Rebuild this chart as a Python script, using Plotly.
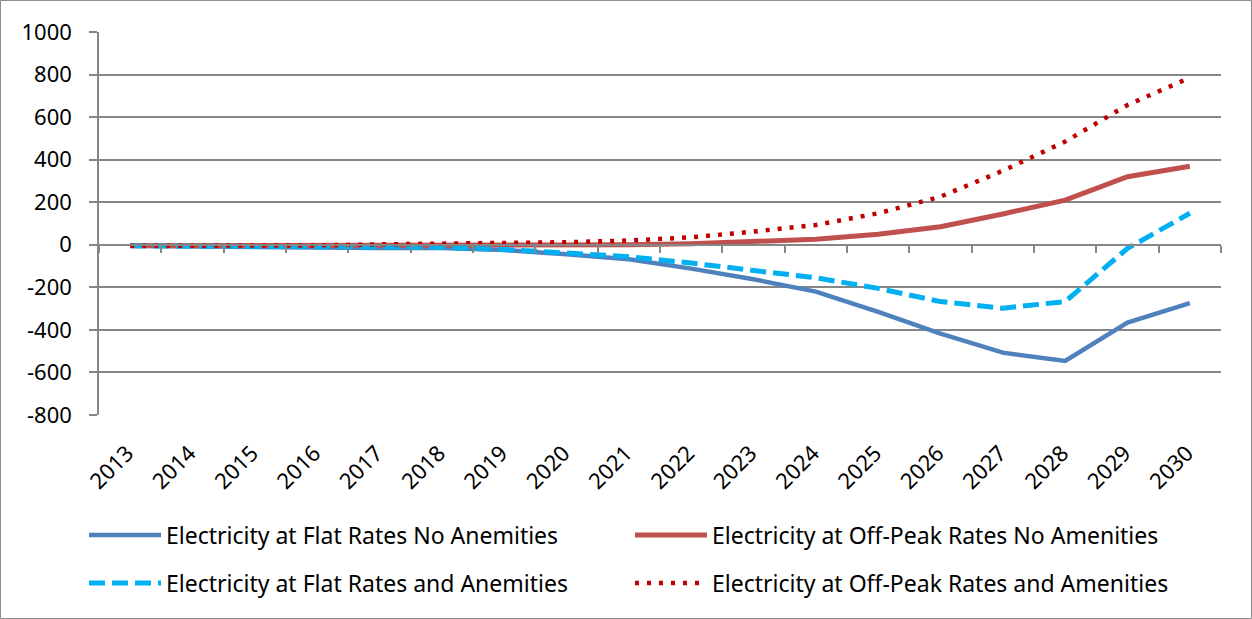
import plotly.graph_objects as go

years = [str(y) for y in range(2013, 2031)]

flat_no_amenities = [-5, -8, -12, -15, -15, -15, -25, -45, -68, -112, -162, -220, -315, -418, -507, -546, -366, -274]
offpeak_no_amenities = [-5, -5, -5, -3, 0, 0, 0, 0, 0, 5, 14, 26, 49, 85, 145, 210, 320, 369]
flat_amenities = [-5, -7, -10, -12, -12, -12, -22, -37, -56, -86, -118, -155, -205, -267, -298, -267, -17, 148]
offpeak_amenities = [-5, -5, -5, -3, 2, 5, 8, 12, 20, 35, 62, 93, 148, 226, 348, 485, 657, 785]

y_ticks = list(range(-800, 1001, 200))
y_tick_text = [str(v) for v in y_ticks]  # plain hyphen for negatives

FONT = "Noto Sans"
GRID = "#868686"

W, H = 1252, 619
L, R, T, B = 99, 31, 32, 204
pw, ph = W - L - R, H - T - B

fig = go.Figure()

series = [
    ("Electricity at Flat Rates No Anemities", flat_no_amenities, "#4F81BD", "solid", 4.5, "legend"),
    ("Electricity at Off-Peak Rates No Amenities", offpeak_no_amenities, "#C0504D", "solid", 5, "legend"),
    ("Electricity at Flat Rates and Anemities", flat_amenities, "#00B0F0", "16px,7px", 5, "legend2"),
    ("Electricity at Off-Peak Rates and Amenities", offpeak_amenities, "#C00000", "4px,8px", 4.5, "legend2"),
]
for name, vals, color, dash, width, leg in series:
    fig.add_trace(go.Scatter(
        x=years, y=vals, name=name, mode="lines",
        line=dict(color=color, width=width, dash=dash),
        legend=leg,
    ))

# invisible trace so the tick-mark axis along zero is rendered
fig.add_trace(go.Scatter(x=years, y=[0] * len(years), xaxis="x2", mode="lines",
                         line=dict(width=0), showlegend=False, hoverinfo="skip"))

zero_pos = (0 - y_ticks[0]) / (y_ticks[-1] - y_ticks[0])

legend_common = dict(
    orientation="h", x=(84 - L) / pw, xanchor="left", yanchor="middle",
    entrywidth=459, entrywidthmode="pixels", itemwidth=72,
    font=dict(family=FONT, size=23, color="black"), bgcolor="rgba(0,0,0,0)",
)

fig.update_layout(
    width=W, height=H,
    margin=dict(l=L, r=R, t=T, b=B, autoexpand=False),
    paper_bgcolor="white", plot_bgcolor="white",
    font=dict(family=FONT, size=22, color="black"),
    xaxis=dict(
        type="category", categoryorder="array", categoryarray=years,
        range=[-0.5, len(years) - 0.5],
        showgrid=False, zeroline=False, showline=False,
        ticks="", tickangle=-45, ticklabelstandoff=20, ticklabelshift=-3,
        tickfont=dict(family=FONT, size=22, color="black"),
    ),
    xaxis2=dict(
        type="category", categoryorder="array", categoryarray=years,
        range=[-0.5, len(years) - 0.5],
        overlaying="x", anchor="free", position=zero_pos,
        showgrid=False, zeroline=False,
        showline=True, linecolor=GRID, linewidth=1.5,
        ticks="outside", tickson="boundaries", ticklen=7, tickcolor=GRID, tickwidth=1.5,
        showticklabels=False,
    ),
    yaxis=dict(
        range=[y_ticks[0], y_ticks[-1]], tickvals=y_ticks, ticktext=y_tick_text,
        showgrid=True, gridcolor=GRID, gridwidth=1.5,
        zeroline=False,
        showline=True, linecolor=GRID, linewidth=1.5,
        ticks="outside", ticklen=8, tickcolor=GRID, tickwidth=1.5,
        tickfont=dict(family=FONT, size=22, color="black"),
        ticklabelstandoff=13,
    ),
    legend=dict(legend_common, y=1 - (535 - T) / ph),
    legend2=dict(legend_common, y=1 - (583 - T) / ph),
    shapes=[dict(
        type="rect", xref="paper", yref="paper",
        x0=(0.5 - L) / pw, x1=(W - 0.5 - L) / pw,
        y0=-(B - 0.5) / ph, y1=1 + (T - 0.5) / ph,
        line=dict(color="#8C8C8C", width=1), fillcolor="rgba(0,0,0,0)", layer="below",
    )],
)

fig.write_html("out.html")
